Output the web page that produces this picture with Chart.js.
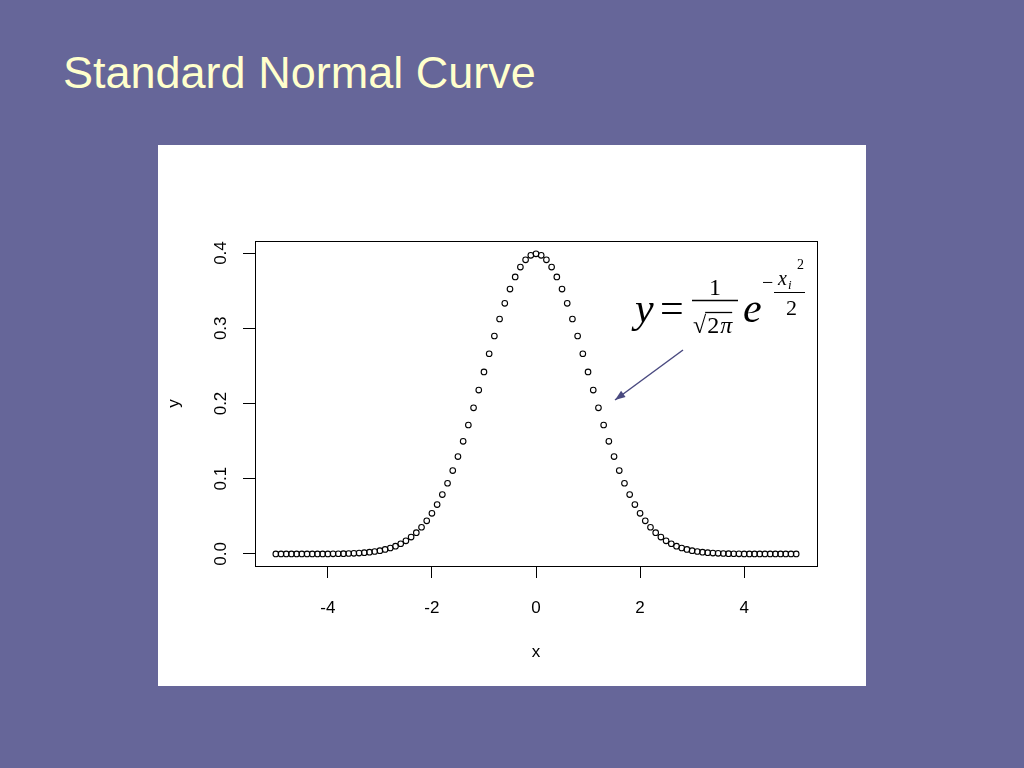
<!DOCTYPE html>
<html lang="en">
<head>
  <meta charset="UTF-8">
  <title>Standard Normal Curve</title>
  <script src="https://cdn.jsdelivr.net/npm/chart.js"></script>
  <style>
    html,body{margin:0;padding:0;}
    body{width:1024px;height:768px;background:#666699;position:relative;overflow:hidden;
      font-family:"Liberation Sans",Arial,sans-serif;}
    h1{position:absolute;left:63px;top:50px;margin:0;font-weight:normal;font-size:45px;
      line-height:45px;color:#ffffcc;white-space:nowrap;}
    /* white plot panel */
    .panel{position:absolute;left:158px;top:145px;width:708px;height:541px;background:#fff;}
  </style>
</head>
<body>
  <h1>Standard Normal Curve</h1>
  <div class="panel"><canvas id="normChart"></canvas></div>

  <script>
    /* ——— DATA ——— */
    const xValues = [
      -5.0,-4.9,-4.8,-4.7,-4.6,-4.5,-4.4,-4.3,-4.2,-4.1,
      -4.0,-3.9,-3.8,-3.7,-3.6,-3.5,-3.4,-3.3,-3.2,-3.1,
      -3.0,-2.9,-2.8,-2.7,-2.6,-2.5,-2.4,-2.3,-2.2,-2.1,
      -2.0,-1.9,-1.8,-1.7,-1.6,-1.5,-1.4,-1.3,-1.2,-1.1,
      -1.0,-0.9,-0.8,-0.7,-0.6,-0.5,-0.4,-0.3,-0.2,-0.1,
       0.0,
       0.1, 0.2, 0.3, 0.4, 0.5, 0.6, 0.7, 0.8, 0.9, 1.0,
       1.1, 1.2, 1.3, 1.4, 1.5, 1.6, 1.7, 1.8, 1.9, 2.0,
       2.1, 2.2, 2.3, 2.4, 2.5, 2.6, 2.7, 2.8, 2.9, 3.0,
       3.1, 3.2, 3.3, 3.4, 3.5, 3.6, 3.7, 3.8, 3.9, 4.0,
       4.1, 4.2, 4.3, 4.4, 4.5, 4.6, 4.7, 4.8, 4.9, 5.0
    ];
    const yValues = [
      0.0000,0.0000,0.0000,0.0000,0.0000,0.0000,0.0000,0.0000,0.0001,0.0001,
      0.0001,0.0002,0.0003,0.0004,0.0006,0.0009,0.0012,0.0017,0.0024,0.0033,
      0.0044,0.0060,0.0079,0.0104,0.0136,0.0175,0.0224,0.0283,0.0355,0.0440,
      0.0540,0.0656,0.0790,0.0940,0.1109,0.1295,0.1497,0.1714,0.1942,0.2179,
      0.2420,0.2661,0.2897,0.3123,0.3332,0.3521,0.3683,0.3814,0.3910,0.3970,
      0.3989,
      0.3970,0.3910,0.3814,0.3683,0.3521,0.3332,0.3123,0.2897,0.2661,0.2420,
      0.2179,0.1942,0.1714,0.1497,0.1295,0.1109,0.0940,0.0790,0.0656,0.0540,
      0.0440,0.0355,0.0283,0.0224,0.0175,0.0136,0.0104,0.0079,0.0060,0.0044,
      0.0033,0.0024,0.0017,0.0012,0.0009,0.0006,0.0004,0.0003,0.0002,0.0001,
      0.0001,0.0001,0.0000,0.0000,0.0000,0.0000,0.0000,0.0000,0.0000,0.0000
    ];
    const xTicks = [-4,-2,0,2,4];
    const yTicks = [0,0.1,0.2,0.3,0.4];

    /* ——— box round the plot + formula annotation ——— */
    const extras = {
      id:'extras',
      afterDraw(chart){
        const c = chart.ctx, a = chart.chartArea;
        c.save();
        c.strokeStyle='#000'; c.lineWidth=1;
        c.strokeRect(Math.round(a.left)+.5, Math.round(a.top)+.5,
                     Math.round(a.right-a.left), Math.round(a.bottom-a.top));

        // formula  y = 1/sqrt(2pi) e^(-x_i^2/2)
        c.fillStyle='#000'; c.strokeStyle='#000';
        c.textBaseline='alphabetic'; c.textAlign='left';
        const serif='"Liberation Serif","Times New Roman",serif';
        c.font='italic 42px '+serif;  c.fillText('y',477,177);
        c.font='42px '+serif;         c.fillText('=',502,177);
        c.font='24px '+serif; c.textAlign='center'; c.fillText('1',557,150);
        c.lineWidth=1.3;
        c.beginPath(); c.moveTo(534,155.5); c.lineTo(580,155.5); c.stroke();
        // sqrt(2 pi)
        c.textAlign='left';
        c.font='24px '+serif;
        const rw=c.measureText('\u221A').width;
        c.fillText('\u221A',535,188);
        c.fillText('2',535+rw+1,188);
        const tw=c.measureText('2').width;
        c.font='italic 24px '+serif;
        c.fillText('\u03C0',535+rw+1+tw+1,188);
        const pw=c.measureText('\u03C0').width;
        c.beginPath(); c.moveTo(535+rw-1,167.5); c.lineTo(535+rw+2+tw+pw,167.5); c.stroke();
        // e with exponent
        c.font='italic 42px '+serif; c.fillText('e',585,177);
        c.font='20px '+serif; c.fillText('\u2212',604,144);
        c.beginPath(); c.moveTo(616,147.5); c.lineTo(647,147.5); c.lineWidth=1; c.stroke();
        c.font='italic 20px '+serif; c.fillText('x',620,140);
        c.font='italic 13px '+serif; c.fillText('i',630,144);
        c.font='14px '+serif; c.fillText('2',639,124);
        c.font='22px '+serif; c.fillText('2',628,170);

        // arrow
        const x1=525,y1=205,x2=457,y2=255;
        c.strokeStyle='#4a4a80'; c.fillStyle='#4a4a80'; c.lineWidth=1.5;
        c.beginPath(); c.moveTo(x1,y1); c.lineTo(x2,y2); c.stroke();
        const ang=Math.atan2(y2-y1,x2-x1), L=11;
        c.beginPath();
        c.moveTo(x2,y2);
        c.lineTo(x2-L*Math.cos(ang-0.35), y2-L*Math.sin(ang-0.35));
        c.lineTo(x2-L*Math.cos(ang+0.35), y2-L*Math.sin(ang+0.35));
        c.closePath(); c.fill();
        c.restore();
      }
    };

    Chart.defaults.font.family='"Liberation Sans",Arial,sans-serif';
    Chart.defaults.font.size=17;
    Chart.defaults.color='#000';

    new Chart(document.getElementById('normChart'),{
      type:'scatter',
      data:{
        datasets:[{
          data:xValues.map((x,i)=>({x, y:yValues[i]})),
          pointRadius:2.8,
          pointBorderWidth:1.1,
          pointBorderColor:'#000',
          pointBackgroundColor:'rgba(0,0,0,0)',
          showLine:false
        }]
      },
      options:{
        responsive:true,
        maintainAspectRatio:false,
        animation:false,
        events:[],
        layout:{padding:{top:96,right:49,left:0,bottom:0}},
        plugins:{legend:{display:false},tooltip:{enabled:false}},
        scales:{
          x:{
            type:'linear', min:-5.4, max:5.4,
            afterBuildTicks:s=>{ s.ticks=xTicks.map(v=>({value:v})); },
            afterFit:s=>{ s.height=120; },
            grid:{drawOnChartArea:false, tickLength:12, color:'#000'},
            border:{display:false},
            ticks:{padding:20, maxRotation:0, callback:v=>String(v)},
            title:{display:true, text:'x', padding:{top:0,bottom:23}}
          },
          y:{
            type:'linear', min:-0.016, max:0.416,
            afterBuildTicks:s=>{ s.ticks=yTicks.map(v=>({value:v})); },
            afterFit:s=>{ s.width=97; },
            grid:{drawOnChartArea:false, tickLength:12, color:'#000'},
            border:{display:false},
            ticks:{padding:10, minRotation:90, maxRotation:90, crossAlign:'center',
                   callback:v=>v.toFixed(1)},
            title:{display:true, text:'y', padding:{top:6,bottom:0}}
          }
        }
      },
      plugins:[extras]
    });
  </script>
</body>
</html>
